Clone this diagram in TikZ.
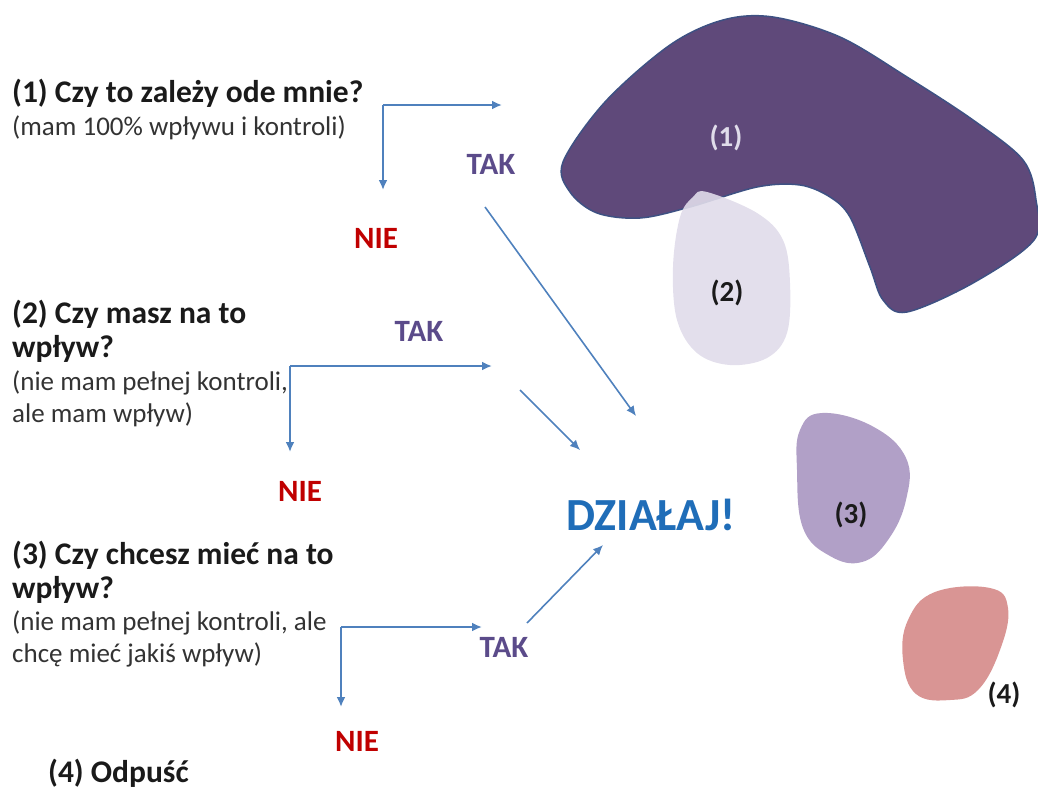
\documentclass[tikz,border=0pt]{standalone}
\usepackage{fontspec}
\setmainfont{Carlito}
\usetikzlibrary{arrows.meta}
\definecolor{arrowblue}{HTML}{4F81BD}
\definecolor{takpurple}{HTML}{5B4B8A}
\definecolor{nered}{HTML}{C00000}
\definecolor{actblue}{HTML}{1F6DB8}
\definecolor{ink}{HTML}{1A1A1A}
\definecolor{subgray}{HTML}{333333}
\definecolor{blobone}{HTML}{5F497A}
\definecolor{bloboneline}{HTML}{3E5183}
\definecolor{blobtwo}{HTML}{E0DCEA}
\definecolor{blobthree}{HTML}{B1A0C7}
\definecolor{blobfour}{HTML}{D99594}
\tikzset{
  question/.style={anchor=base west, align=left, inner sep=0pt, text=ink, font=\fontsize{31.5}{34}\selectfont\bfseries},
  note/.style={anchor=base west, align=left, inner sep=0pt, text=subgray, font=\fontsize{27}{32}\selectfont},
  yes/.style={inner sep=0pt, text=takpurple, font=\fontsize{31}{34}\selectfont\bfseries},
  no/.style={inner sep=0pt, text=nered, font=\fontsize{31}{34}\selectfont\bfseries},
  act/.style={inner sep=0pt, text=actblue, font=\fontsize{46}{50}\selectfont\bfseries},
  zone/.style={inner sep=0pt, font=\fontsize{29}{30}\selectfont\bfseries},
  arrow/.style={-{Latex[length=10pt,width=9pt]}, line width=2pt, draw=arrowblue}
}
\begin{document}
\begin{tikzpicture}[x=1pt, y=-1pt]
\useasboundingbox (0,0) rectangle (1038,788);
% areas of influence
\fill[blobone, draw=bloboneline, line width=1.5pt] plot[smooth cycle, tension=0.55] coordinates {(563,162) (605,102) (670,45) (723,20) (773,17) (840,37) (907,77) (973,120) (1023,160) (1036,200) (1034,240) (973,283) (907,312) (883,300) (870,267) (850,217) (830,197) (800,185) (757,187) (690,207) (640,218) (597,213) (570,192)};
\fill[blobtwo, opacity=0.9] plot[smooth cycle, tension=0.6] coordinates {(707,192) (757,213) (783,240) (790,283) (787,333) (767,358) (730,365) (697,353) (677,320) (673,267) (680,217) (693,197)};
\fill[blobthree] plot[smooth cycle, tension=0.7] coordinates {(822,413) (872,426) (906,458) (906,500) (888,540) (862,562) (830,556) (803,528) (797,470) (800,430)};
\fill[blobfour] plot[smooth cycle, tension=0.7] coordinates {(935,592) (990,588) (1008,608) (1000,650) (978,690) (950,700) (916,694) (903,660) (908,620)};
\node[zone, text=blobtwo] (z1) at (726,138) {(1)};
\node[zone, text=ink] (z2) at (727,293) {(2)};
\node[zone, text=ink] (z3) at (851,515) {(3)};
\node[zone, text=ink] (z4) at (1004,695) {(4)};
% questions
\node[question] (q1) at (12,102) {(1) Czy to zależy ode mnie?};
\node[note] (q1n) at (12,135) {(mam 100\% wpływu i kontroli)};
\node[question] (q2) at (12,357) {(2) Czy masz na to\\wpływ?};
\node[note] (q2n) at (12,422) {(nie mam pełnej kontroli,\\ale mam wpływ)};
\node[question] (q3) at (12,598) {(3) Czy chcesz mieć na to\\wpływ?};
\node[note] (q3n) at (12,662) {(nie mam pełnej kontroli, ale\\chcę mieć jakiś wpływ)};
\node[question] (q4) at (48,782) {(4) Odpuść};
% answers
\node[yes] (t1) at (491,164) {TAK};
\node[no] (n1) at (376,238) {NIE};
\node[yes] (t2) at (419,331) {TAK};
\node[no] (n2) at (300,491) {NIE};
\node[yes] (t3) at (504,647) {TAK};
\node[no] (n3) at (357,741) {NIE};
\node[act] (go) at (651,515) {DZIAŁAJ!};
% branches
\coordinate (k1) at (383,105); \coordinate (k1r) at (502,105); \coordinate (k1d) at (383,190);
\coordinate (k2) at (290,366); \coordinate (k2r) at (492,366); \coordinate (k2d) at (290,452);
\coordinate (k3) at (341,627); \coordinate (k3r) at (482,627); \coordinate (k3d) at (341,707);
\draw[arrow] (k1)--(k1r); \draw[arrow] (k1)--(k1d);
\draw[arrow] (k2)--(k2r); \draw[arrow] (k2)--(k2d);
\draw[arrow] (k3)--(k3r); \draw[arrow] (k3)--(k3d);
\coordinate (a1) at (485,207); \coordinate (a1e) at (636,416);
\coordinate (a2) at (520,390); \coordinate (a2e) at (580,450);
\coordinate (a3) at (527,623); \coordinate (a3e) at (603,545);
\draw[arrow, line width=1.6pt] (a1)--(a1e);
\draw[arrow, line width=1.6pt] (a2)--(a2e);
\draw[arrow, line width=1.6pt] (a3)--(a3e);
\end{tikzpicture}
\end{document}
